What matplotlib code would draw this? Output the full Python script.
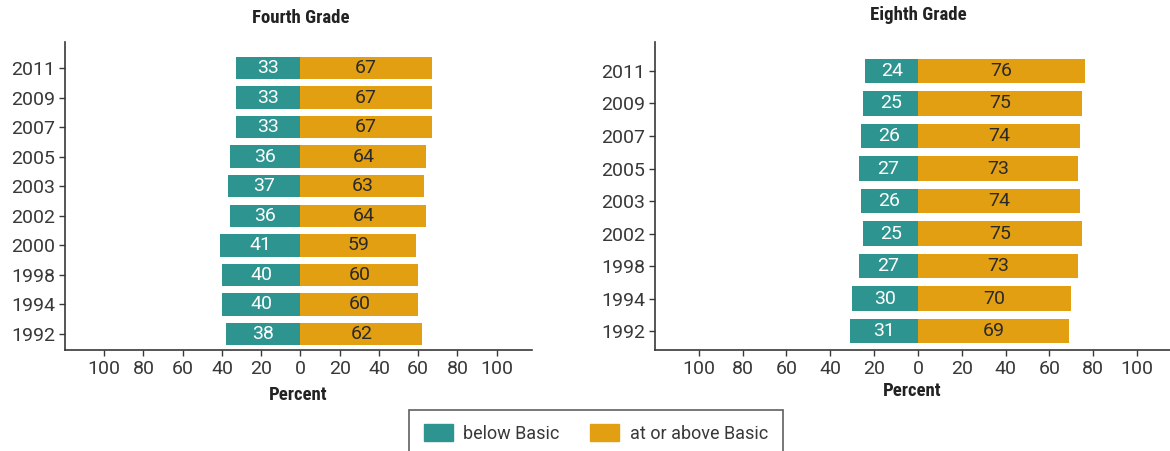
import matplotlib
matplotlib.use('Agg')
import matplotlib.pyplot as plt
from matplotlib.patches import Patch

# data
years4 = ['1992', '1994', '1998', '2000', '2002', '2003', '2005', '2007', '2009', '2011']
below4 = [38, 40, 40, 41, 36, 37, 36, 33, 33, 33]
above4 = [62, 60, 60, 59, 64, 63, 64, 67, 67, 67]

years8 = ['1992', '1994', '1998', '2002', '2003', '2005', '2007', '2009', '2011']
below8 = [31, 30, 27, 25, 26, 27, 26, 25, 24]
above8 = [69, 70, 73, 75, 74, 73, 74, 75, 76]

xticks = [-100, -80, -60, -40, -20, 0, 20, 40, 60, 80, 100]
xticklabels = ['100', '80', '60', '40', '20', '0', '20', '40', '60', '80', '100']

teal = '#2E9490'
orange = '#E39F12'
dark = '#383838'
tickfont = 'Roboto'
boldfont = ['Roboto Condensed', 'DejaVu Sans']

fig = plt.figure(figsize=(11.7, 4.51), dpi=100)


def panel(ax, years, below, above, title, ylim, xlim, title_y, xlab_pad):
    pos = list(range(len(years)))
    ax.barh(pos, [-b for b in below], height=0.76, color=teal)
    ax.barh(pos, above, height=0.76, color=orange)
    for p, b, a in zip(pos, below, above):
        ax.text(-b / 2, p, str(b), ha='center', va='center', color='white',
                fontsize=14, family=tickfont)
        ax.text(a / 2, p, str(a), ha='center', va='center', color='#2a2a2a',
                fontsize=14, family=tickfont)
    ax.set_yticks(pos)
    ax.set_yticklabels(years, family=tickfont, fontsize=14, color=dark)
    ax.set_xticks(xticks)
    ax.set_xticklabels(xticklabels, family=tickfont, fontsize=14, color=dark)
    ax.set_xlim(xlim)
    ax.set_ylim(ylim)
    for s in ['top', 'right']:
        ax.spines[s].set_visible(False)
    for s in ['left', 'bottom']:
        ax.spines[s].set_color(dark)
        ax.spines[s].set_linewidth(1.2)
    ax.tick_params(length=4, width=1, color=dark, pad=3)
    ax.set_xlabel('Percent', family=boldfont, fontweight='bold', stretch='condensed',
                  fontsize=13.5, color='#222222', labelpad=xlab_pad)
    fig.text(ax.transData.transform((0, 0))[0] / fig.bbox.width, title_y, title,
             ha='center', va='center', family=boldfont, fontweight='bold',
             stretch='condensed', fontsize=13.5, color='#222222')


ax1 = fig.add_axes([65 / 1170, 101 / 451, 467 / 1170, 308 / 451])
ax2 = fig.add_axes([655 / 1170, 101 / 451, 515 / 1170, 308 / 451])

panel(ax1, years4, below4, above4, 'Fourth Grade', (-0.54, 9.88), (-120, 118), 1 - 18 / 451, 6)
panel(ax2, years8, below8, above8, 'Eighth Grade', (-0.58, 8.89), (-120, 115), 1 - 15 / 451, 3)

handles = [Patch(color=teal, label='below Basic'), Patch(color=orange, label='at or above Basic')]
leg = fig.legend(handles=handles, loc='upper center', bbox_to_anchor=(596 / 1170, 1 - 401 / 451),
                 ncol=2, frameon=True, fancybox=False, handlelength=1.6, handleheight=1.0,
                 handletextpad=0.6, columnspacing=1.7, borderpad=0.8,
                 prop={'family': tickfont, 'size': 13})
leg.get_frame().set_edgecolor(dark)
leg.get_frame().set_linewidth(1.2)
for t in leg.get_texts():
    t.set_color(dark)

fig.savefig('out.png', dpi=100)
